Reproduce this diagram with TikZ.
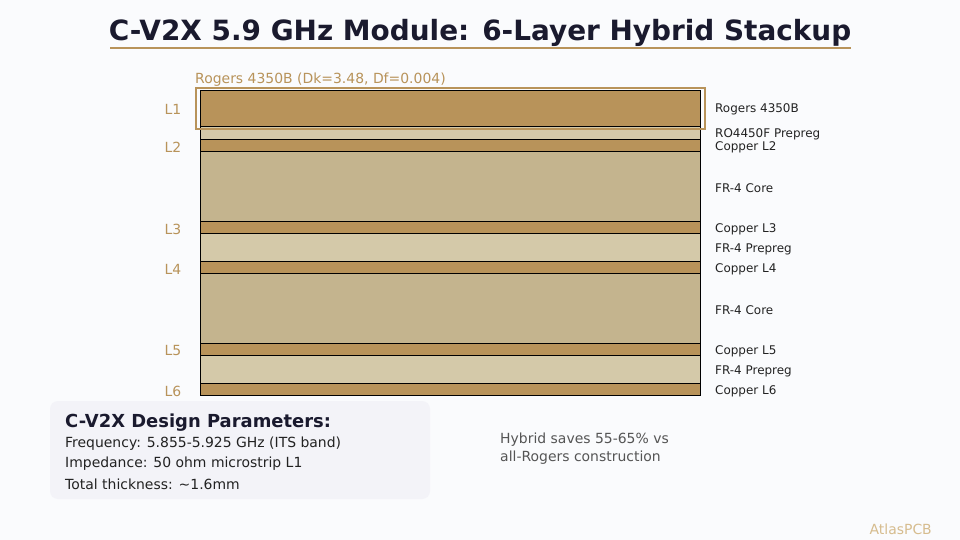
\documentclass[tikz,border=0pt]{standalone}
\usepackage{fontspec}
\setmainfont{DejaVu Sans}
\usepackage{tikz}
\usetikzlibrary{positioning}

\definecolor{bgcol}{HTML}{FAFBFD}
\definecolor{navy}{HTML}{1A1A2E}
\definecolor{gold}{HTML}{B8935A}
\definecolor{palegold}{HTML}{D6BC8E}
\definecolor{copper}{HTML}{B8935A}
\definecolor{core}{HTML}{C4B48E}
\definecolor{preg}{HTML}{D4C9A9}
\definecolor{boxfill}{HTML}{F3F3F8}
\definecolor{txt}{HTML}{222222}
\definecolor{note}{HTML}{555555}

\tikzset{
  layer/.style={draw=black, line width=0.6pt},
  lname/.style={anchor=west, font=\fontsize{12}{14}\selectfont, text=txt, inner sep=0pt},
  lnum/.style={font=\fontsize{14}{16}\selectfont, text=gold, inner sep=0pt},
  param/.style={anchor=west, font=\fontsize{14}{16}\selectfont, text=txt, inner sep=0pt}
}

\begin{document}
\begin{tikzpicture}[x=1bp,y=-1bp]
  \fill[bgcol] (0,0) rectangle (960,540);
  \useasboundingbox (0,0) rectangle (960,540);

  % title
  \node[font=\fontsize{28}{32}\selectfont\bfseries, text=navy, inner sep=0pt] (title) at (480,32.5) {C-V2X 5.9 GHz Module: 6-Layer Hybrid Stackup};
  \draw[gold, line width=1.5pt] (110,48) -- (851,48);

  % stackup layers: top/bottom/fill/name/label y
  \foreach \top/\bot/\col/\name/\ly [count=\i] in {
      90/126/copper/Rogers 4350B/109.5,
      126/139/preg/RO4450F Prepreg/134.5,
      139/151/copper/Copper L2/147.5,
      151/221/core/FR-4 Core/188.5,
      221/233/copper/Copper L3/229.5,
      233/261/preg/FR-4 Prepreg/249.5,
      261/273/copper/Copper L4/269.5,
      273/343/core/FR-4 Core/310.5,
      343/355/copper/Copper L5/351.5,
      355/383/preg/FR-4 Prepreg/371.5,
      383/395/copper/Copper L6/391.5} {%
    \draw[layer, fill=\col] (200,\top) rectangle (700,\bot);
    \node[lname] (name\i) at (715,\ly) {\name};
  }

  % highlight of the Rogers layer
  \draw[gold, line width=1.5pt] (196,88) rectangle (705,129);
  \node[anchor=west, font=\fontsize{14}{16}\selectfont, text=gold, inner sep=0pt] (rogers) at (195,79.5) {Rogers 4350B (Dk=3.48, Df=0.004)};

  % copper layer numbers
  \foreach \n/\ly in {1/109,2/147,3/229,4/269,5/351,6/391} {%
    \node[lnum] (L\n) at (173,\ly) {L\n};
  }

  % design parameters
  \fill[boxfill, rounded corners=8bp] (50,401) rectangle (430,499);
  \node[anchor=west, font=\fontsize{18}{21}\selectfont\bfseries, text=navy, inner sep=0pt] (ptitle) at (65,422.5) {C-V2X Design Parameters:};
  \node[param] (p1) at (65,443.5) {Frequency: 5.855-5.925 GHz (ITS band)};
  \node[param] (p2) at (65,464) {Impedance: 50 ohm microstrip L1};
  \node[param] (p3) at (65,484) {Total thickness: \textasciitilde 1.6mm};

  % cost note
  \node[anchor=north west, align=left, font=\fontsize{14}{18}\selectfont, text=note, inner sep=0pt] (cost) at (500,432.5) {Hybrid saves 55-65\% vs\\all-Rogers construction};

  \node[anchor=east, font=\fontsize{14}{16}\selectfont, text=palegold, inner sep=0pt] (brand) at (932,529) {AtlasPCB};
\end{tikzpicture}
\end{document}
